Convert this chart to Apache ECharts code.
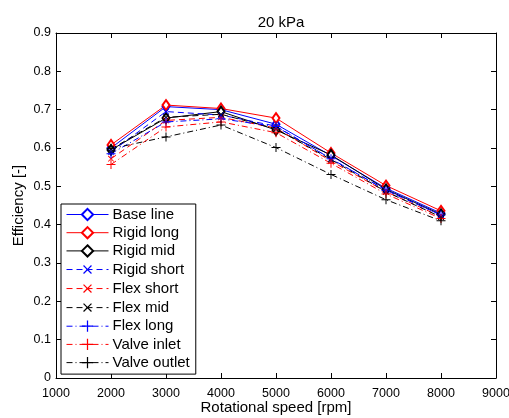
<!DOCTYPE html>
<html>
<head>
<meta charset="utf-8">
<script src="https://cdn.jsdelivr.net/npm/echarts@6/dist/echarts.min.js"></script>
<style>
  html, body { margin: 0; padding: 0; background: #fff; }
  #chart { width: 509px; height: 418px; }
</style>
</head>
<body>
<div id="chart"></div>
<script>
// 转速 (rpm)
var speeds = [2000, 3000, 4000, 5000, 6000, 7000, 8000];

// 各工况效率
var base_line    = [0.600, 0.708, 0.700, 0.662, 0.580, 0.495, 0.430];
var rigid_long   = [0.608, 0.712, 0.703, 0.678, 0.587, 0.502, 0.436];
var rigid_mid    = [0.595, 0.678, 0.695, 0.647, 0.582, 0.492, 0.427];
var rigid_short  = [0.590, 0.695, 0.686, 0.657, 0.572, 0.490, 0.425];
var flex_short   = [0.572, 0.672, 0.680, 0.652, 0.566, 0.486, 0.421];
var flex_mid     = [0.597, 0.680, 0.688, 0.650, 0.570, 0.486, 0.420];
var flex_long    = [0.585, 0.668, 0.676, 0.656, 0.572, 0.490, 0.425];
var valve_inlet  = [0.557, 0.655, 0.668, 0.640, 0.560, 0.480, 0.416];
var valve_outlet = [0.598, 0.629, 0.660, 0.601, 0.531, 0.465, 0.410];

var plusPath = 'path://M4.45,0h1.1v4.45h4.45v1.1h-4.45v4.45h-1.1v-4.45h-4.45v-1.1h4.45z';

function make_series(name, values, color, dash, marker) {
    var symbol, size, rotate = 0;
    if (marker === 'd') { symbol = 'emptyDiamond'; size = [7, 10]; }
    else if (marker === 'x') { symbol = plusPath; size = 8; rotate = 45; }
    else { symbol = plusPath; size = 9; }
    return {
        name: name,
        type: 'line',
        data: speeds.map(function (s, i) { return [s, values[i]]; }),
        symbol: symbol,
        symbolSize: size,
        symbolRotate: rotate,
        showAllSymbol: true,
        lineStyle: { color: color, width: 1, type: dash },
        itemStyle: marker === 'd'
            ? { color: color, borderColor: color, borderWidth: 1 }
            : { color: color, borderWidth: 0 },
        emphasis: { disabled: true },
        animation: false
    };
}

var dashed = [6, 4];
var dashdot = [6, 3, 1, 3];

var series_list = [
    make_series('Base line', base_line, '#0000ff', 'solid', 'd'),
    make_series('Rigid long', rigid_long, '#ff0000', 'solid', 'd'),
    make_series('Rigid mid', rigid_mid, '#000000', 'solid', 'd'),
    make_series('Rigid short', rigid_short, '#0000ff', dashed, 'x'),
    make_series('Flex short', flex_short, '#ff0000', dashed, 'x'),
    make_series('Flex mid', flex_mid, '#000000', dashed, 'x'),
    make_series('Flex long', flex_long, '#0000ff', dashdot, '+'),
    make_series('Valve inlet', valve_inlet, '#ff0000', dashdot, '+'),
    make_series('Valve outlet', valve_outlet, '#000000', dashdot, '+')
];

var font = 'Liberation Sans, Arial, Helvetica, sans-serif';

var axisCommon = {
    axisLine: { show: true, onZero: false, lineStyle: { color: '#000', width: 1 } },
    axisTick: { show: true, inside: true, length: 5, lineStyle: { color: '#000' } },
    splitLine: { show: false }
};

var chart = echarts.init(document.getElementById('chart'));

var option = {
    backgroundColor: '#fff',
    animation: false,
    title: {
        text: '20 kPa',
        left: 276,
        textAlign: 'center',
        top: 10,
        textStyle: { fontFamily: font, fontSize: 15, fontWeight: 'normal', color: '#000' }
    },
    grid: { left: 56, right: 13, top: 33, bottom: 40, outerBoundsMode: 'none', containLabel: false },
    legend: {
        orient: 'vertical',
        left: 61,
        top: 204,
        padding: [3, 6, 4, 5],
        itemWidth: 42,
        itemHeight: 14,
        itemGap: 3.2,
        backgroundColor: '#fff',
        borderColor: '#000',
        borderWidth: 1,
        borderRadius: 0,
        lineStyle: { width: 1 },
        textStyle: { fontFamily: font, fontSize: 15, lineHeight: 14, color: '#000', padding: [0, 0, 0, -1] },
        data: series_list.map(function (s) { return s.name; })
    },
    xAxis: [
        Object.assign({
            type: 'value',
            min: 1000,
            max: 9000,
            interval: 1000,
            name: 'Rotational speed [rpm]',
            nameLocation: 'middle',
            nameGap: 22,
            nameMoveOverlap: false,
            nameTextStyle: { fontFamily: font, fontSize: 15, color: '#000' },
            axisLabel: {
                fontFamily: font, fontSize: 12.5, color: '#000', margin: 9,
                formatter: function (v) { return String(v); }
            }
        }, axisCommon),
        Object.assign({
            type: 'value',
            position: 'top',
            min: 1000,
            max: 9000,
            interval: 1000,
            axisLabel: { show: false }
        }, axisCommon)
    ],
    yAxis: [
        Object.assign({
            type: 'value',
            min: 0,
            max: 0.9,
            interval: 0.1,
            name: 'Efficiency [-]',
            nameLocation: 'middle',
            nameGap: 30,
            nameMoveOverlap: false,
            nameTextStyle: { fontFamily: font, fontSize: 15, color: '#000' },
            axisLabel: {
                fontFamily: font, fontSize: 12.5, color: '#000', margin: 5,
                formatter: function (v) { return v === 0 ? '0' : v.toFixed(1); }
            }
        }, axisCommon),
        Object.assign({
            type: 'value',
            position: 'right',
            min: 0,
            max: 0.9,
            interval: 0.1,
            axisLabel: { show: false }
        }, axisCommon)
    ],
    series: series_list
};

chart.setOption(option);
</script>
</body>
</html>
